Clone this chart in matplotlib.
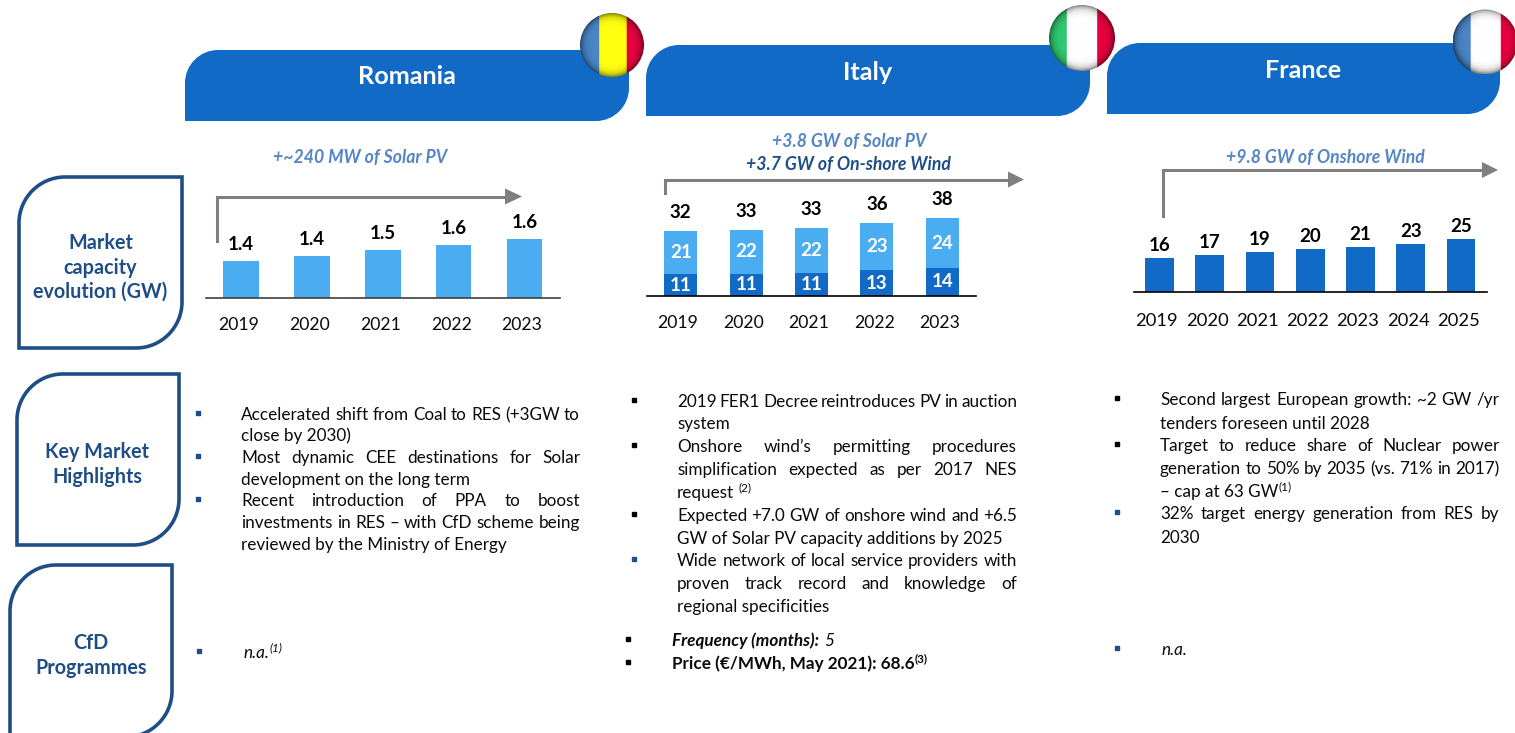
import numpy as np
import matplotlib
matplotlib.use("Agg")
import matplotlib.pyplot as plt
from matplotlib.path import Path
from matplotlib.patches import PathPatch, Circle, Polygon

plt.rcParams['font.family'] = ['Lato', 'DejaVu Sans']

# Datos de los graficos
years_ro = ["2019", "2020", "2021", "2022", "2023"]
solar_ro = [1.38, 1.43, 1.49, 1.55, 1.61]
labels_ro = ["1.4", "1.4", "1.5", "1.6", "1.6"]

years_it = ["2019", "2020", "2021", "2022", "2023"]
wind_it = [10.6, 10.9, 11.2, 12.6, 14.0]
solar_it = [21.2, 21.7, 22.2, 23.2, 24.2]
labels_it = ["32", "33", "33", "36", "38"]

years_fr = ["2019", "2020", "2021", "2022", "2023", "2024", "2025"]
wind_fr = [16.3, 17.4, 18.8, 20.3, 21.4, 23.0, 24.9]
labels_fr = ["16", "17", "19", "20", "21", "23", "25"]

# Textos
text_ro = [["Accelerated shift from Coal to RES (+3GW to", "close by 2030)"],
           ["Most dynamic CEE destinations for Solar", "development on the long term"],
           ["Recent introduction of PPA to boost", "investments in RES – with CfD scheme being",
            "reviewed by the Ministry of Energy"]]
text_it = [["2019 FER1 Decree reintroduces PV in auction", "system"],
           ["Onshore wind’s permitting procedures", "simplification expected as per 2017 NES", "request"],
           ["Expected +7.0 GW of onshore wind and +6.5", "GW of Solar PV capacity additions by 2025"],
           ["Wide network of local service providers with", "proven track record and knowledge of",
            "regional specificities"]]
text_fr = [["Second largest European growth: ~2 GW /yr", "tenders foreseen until 2028"],
           ["Target to reduce share of Nuclear power", "generation to 50% by 2035 (vs. 71% in 2017)",
            "– cap at 63 GW"],
           ["32% target energy generation from RES by", "2030"]]

AZUL = "#116AC6"
CELESTE = "#4BADF1"
MARINO = "#1F4E87"
AZUL_TXT = "#5585C4"
GRIS = "#7F7F7F"
BODY = 12.3
NEGRO = "#0A0A0A"

fig = plt.figure(figsize=(15.15, 7.33), dpi=100, facecolor="white")

# Eje de fondo en pixeles
bg = fig.add_axes([0, 0, 1, 1])
bg.set_xlim(0, 1515)
bg.set_ylim(733, 0)
bg.axis("off")


def px_axes(x0, x1, ytop, ybase):
    ax = fig.add_axes([x0 / 1515, 1 - ybase / 733, (x1 - x0) / 1515, (ybase - ytop) / 733])
    ax.patch.set_alpha(0)
    for s in ["top", "left", "right"]:
        ax.spines[s].set_visible(False)
    ax.set_yticks([])
    ax.tick_params(axis="x", length=0)
    return ax


def diagonal_shape(x0, y0, x1, y1, r):
    # rectangulo con esquinas redondeadas arriba-izq y abajo-der
    k = 0.45 * r
    verts = [(x0, y1), (x0, y0 + r), (x0, y0 + k), (x0 + k, y0), (x0 + r, y0),
             (x1, y0), (x1, y1 - r), (x1, y1 - k), (x1 - k, y1), (x1 - r, y1), (x0, y1)]
    codes = [Path.MOVETO, Path.LINETO, Path.CURVE4, Path.CURVE4, Path.CURVE4,
             Path.LINETO, Path.LINETO, Path.CURVE4, Path.CURVE4, Path.CURVE4, Path.CLOSEPOLY]
    return Path(verts, codes)


def flag(cx, cy, r, colors, cuts=(0.28, 0.73)):
    n = 200
    xx, yy = np.meshgrid(np.linspace(-1, 1, n), np.linspace(-1, 1, n))
    rr = np.sqrt(xx ** 2 + yy ** 2)
    img = np.zeros((n, n, 3))
    f = (xx + 1) / 2
    img[f < cuts[0]] = matplotlib.colors.to_rgb(colors[0])
    img[(f >= cuts[0]) & (f < cuts[1])] = matplotlib.colors.to_rgb(colors[1])
    img[f >= cuts[1]] = matplotlib.colors.to_rgb(colors[2])
    shade = 1 - 0.5 * np.clip(rr, 0, 1) ** 9
    img = img * shade[..., None]
    im = bg.imshow(img, extent=(cx - r, cx + r, cy + r, cy - r), aspect="auto", zorder=5)
    im.set_clip_path(Circle((cx, cy), r, transform=bg.transData))
    bg.set_xlim(0, 1515)
    bg.set_ylim(733, 0)


def arrow(x, ybot, ytop, xhead, xtip):
    bg.plot([x, x, xhead], [ybot, ytop, ytop], color=GRIS, lw=2.2, solid_joinstyle="miter")
    bg.add_patch(Polygon([(xhead, ytop - 8), (xtip, ytop), (xhead, ytop + 8)], color=GRIS, lw=0))


def put(x, y, s, **kw):
    t = bg.text(x, y, s, va="center", ha="left", **kw)
    bb = t.get_window_extent(fig.canvas.get_renderer())
    return t, bb.width


def line(x0, x1, y, s, justify):
    words = s.split(" ")
    if not justify or len(words) < 2:
        t, w = put(x0, y, s, fontsize=BODY, color=NEGRO)
        return x0 + w
    tt = [put(x0, y, w, fontsize=BODY, color=NEGRO) for w in words]
    gap = (x1 - x0 - sum(w for _, w in tt)) / (len(tt) - 1)
    x = x0
    for t, w in tt:
        t.set_x(x)
        x += w + gap
    return x1


def block(x0, x1, ys, paras, xb, bcolors):
    i = 0
    ends = []
    for p, para in enumerate(paras):
        bg.plot([xb], [ys[i] - 2], marker="s", ms=3.5, color=bcolors[p], lw=0)
        for j, s in enumerate(para):
            ends.append(line(x0, x1, ys[i], s, j < len(para) - 1))
            i += 1
    return ends


# Cabeceras
for x0, y0, x1, y1, name, cx, cy in [(185, 50, 629, 121, "Romania", 407, 76.5),
                                     (646, 45, 1090, 116, "Italy", 867.5, 72.5),
                                     (1107, 43, 1500, 114, "France", 1303.5, 70)]:
    bg.add_patch(PathPatch(diagonal_shape(x0, y0, x1, y1, 33), facecolor=AZUL, edgecolor="none"))
    bg.text(cx, cy, name, color="white", fontsize=18.2, fontweight="bold", ha="center", va="center")

flag(612, 45, 32, ["#4A86C8", "#FFFF10", "#E8003F"], (0.3, 0.73))
flag(1082, 38, 33, ["#30C870", "#FFFFFF", "#E8003F"], (0.27, 0.73))
flag(1485, 42, 32.5, ["#4A86C8", "#FFFFFF", "#E8003F"], (0.27, 0.73))

# Cajas de la izquierda
for x0, y0, x1, y1, lines, cx, ys in [
        (19, 177, 182, 348, ["Market", "capacity", "evolution (GW)"], 100.5, [243, 268, 292]),
        (17, 374, 179, 545, ["Key Market", "Highlights"], 97, [452, 477]),
        (10, 565, 172, 737, ["CfD", "Programmes"], 91, [643, 668])]:
    bg.add_patch(PathPatch(diagonal_shape(x0, y0, x1, y1, 46), facecolor="white",
                           edgecolor=MARINO, lw=2.6, joinstyle="miter"))
    for s, y in zip(lines, ys):
        bg.text(cx, y, s, color=MARINO, fontsize=14.2, fontweight="bold", ha="center", va="center")

# Flechas
arrow(216.5, 241, 196.5, 505, 522)
arrow(665, 193, 179.5, 1008, 1024)
arrow(1162.5, 216, 170, 1482, 1498)

# Textos sobre las flechas
neg = dict(fontsize=12.7, fontweight="bold", fontstyle="italic", ha="center", va="center")
bg.text(360, 157.5, "+~240 MW of Solar PV", color=AZUL_TXT, **neg)
bg.text(849, 141.5, "+3.8 GW of Solar PV", color=AZUL_TXT, **neg)
bg.text(848.5, 164, "+3.7 GW of On-shore Wind", color=MARINO, **neg)
bg.text(1325, 157.5, "+9.8 GW of Onshore Wind", color=AZUL_TXT, **neg)

# Romania
ax = px_axes(206, 560, 178, 298.5)
x = np.arange(len(years_ro))
ax.bar(x, solar_ro, width=0.5, color=CELESTE)
ax.set_xlim(-(241 - 206) / 70.9, (560 - 241) / 70.9)
ax.set_ylim(1.0, 1.0 + 120.5 / 98)
ax.spines["bottom"].set_color("#404040")
ax.spines["bottom"].set_linewidth(1.2)
ax.set_xticks(x - 0.035, years_ro, fontsize=12.7, color=NEGRO)
ax.tick_params(axis="x", pad=13)
for i, v in enumerate(solar_ro):
    ax.annotate(labels_ro[i], (i, v), xytext=(0, 16.5), textcoords="offset pixels", ha="center",
                va="center", fontsize=13.5, fontweight="bold", color="black")

# Italia
ax = px_axes(647, 976, 170, 296)
x = np.arange(len(years_it))
total_it = np.array(wind_it) + np.array(solar_it)
ax.bar(x, wind_it, width=0.503, color=AZUL)
ax.bar(x, solar_it, bottom=wind_it, width=0.503, color=CELESTE)
ax.set_xlim(-(680.7 - 647) / 65.4, (976 - 680.7) / 65.4)
ax.set_ylim(0, 126 / 2.03)
ax.spines["bottom"].set_color("black")
ax.spines["bottom"].set_linewidth(1.2)
ax.set_xticks(x - 0.04, years_it, fontsize=12.7, color=NEGRO)
ax.tick_params(axis="x", pad=13.5)
for i in range(len(years_it)):
    ax.text(i, wind_it[i] / 2, f"{wind_it[i]:.0f}", color="white", fontsize=13.5, fontweight="bold",
            ha="center", va="center")
    ax.text(i, wind_it[i] + solar_it[i] / 2, f"{solar_it[i]:.0f}", color="white", fontsize=13.5,
            fontweight="bold", ha="center", va="center")
    ax.annotate(labels_it[i], (i, total_it[i]), xytext=(0, 18.7), textcoords="offset pixels",
                ha="center", va="center", fontsize=13.5, fontweight="bold", color="black")

# Francia
ax = px_axes(1133.7, 1486.7, 170, 292.5)
x = np.arange(len(years_fr))
ax.bar(x, wind_fr, width=0.57, color=AZUL)
ax.set_xlim(-(1159.3 - 1133.7) / 50.3, (1486.7 - 1159.3) / 50.3)
ax.set_ylim(0, 122.5 / 2.13)
ax.spines["bottom"].set_color("black")
ax.spines["bottom"].set_linewidth(1.2)
ax.set_xticks(x - 0.05, years_fr, fontsize=13.2, color=NEGRO)
ax.tick_params(axis="x", pad=14.5)
for i, v in enumerate(wind_fr):
    ax.annotate(labels_fr[i], (i, v), xytext=(0, 12.5), textcoords="offset pixels", ha="center",
                va="center", fontsize=13.5, fontweight="bold", color="black")

# Vinetas y parrafos
fig.canvas.draw()
block(241, 580, [415, 436, 458, 480, 501, 523, 545], text_ro, 197.7, [MARINO] * 3)
e_it = block(677, 1017, [402, 424, 447, 470, 493, 516, 539, 561, 584, 607], text_it, 633.7,
             ["black", "black", "black", MARINO])
e_fr = block(1160, 1499.5, [400, 424, 446, 469, 492, 514, 538], text_fr, 1116.7,
             ["black", "black", MARINO])
bg.text(e_it[4] + 4, 488, "(2)", fontsize=8.5, color=NEGRO, va="center")
bg.text(e_fr[4], 487, "(1)", fontsize=8.5, color=NEGRO, va="center")

# CfD
bg.plot([199], [651], marker="s", ms=3.5, color=MARINO, lw=0)
_, w = put(243, 653, "n.a.", fontsize=BODY, fontstyle="italic", color=NEGRO)
bg.text(243 + w + 1, 648, "(1)", fontsize=8.5, fontstyle="italic", color=NEGRO, va="center")

bg.plot([628], [639], marker="s", ms=3.5, color="black", lw=0)
_, w = put(672, 641, "Frequency (months):", fontsize=BODY, fontweight="bold", fontstyle="italic", color=NEGRO)
put(672 + w + 5, 641, "5", fontsize=BODY, fontstyle="italic", color=NEGRO)
bg.plot([628], [662], marker="s", ms=3.5, color="black", lw=0)
_, w = put(672, 664, "Price (€/MWh, May 2021): 68.6", fontsize=BODY, fontweight="bold", color=NEGRO)
bg.text(672 + w, 659, "(3)", fontsize=8.5, fontweight="bold", color=NEGRO, va="center")

bg.plot([1117], [648], marker="s", ms=3.5, color=MARINO, lw=0)
put(1161, 650, "n.a.", fontsize=BODY, fontstyle="italic", color=NEGRO)

fig.savefig("out.png", dpi=100)
